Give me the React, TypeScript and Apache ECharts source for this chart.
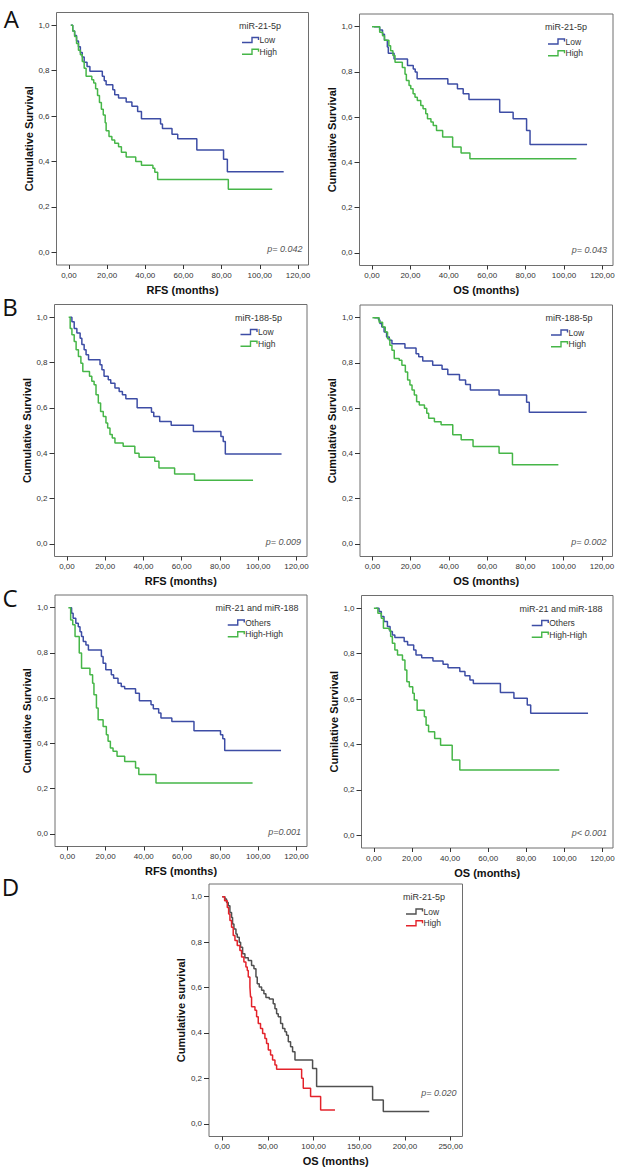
import React, { useEffect, useRef } from "react";
import * as echarts from "echarts";

// ---------- DATA (time in months, cumulative survival) ----------
const xTicks120 = [0, 20, 40, 60, 80, 100, 120];
const xTicks250 = [0, 50, 100, 150, 200, 250];
const yTicks = [0, 0.2, 0.4, 0.6, 0.8, 1.0];

// A: miR-21-5p, RFS
const aRfsLow = [[1,1.0],[2,0.975],[3,0.955],[4,0.93],[5,0.905],[6,0.88],[7,0.86],[8,0.837],[9.5,0.818],[11,0.797],[17.5,0.775],[18.5,0.755],[19.5,0.738],[23,0.716],[24,0.694],[26,0.68],[30,0.662],[33,0.643],[36,0.62],[38,0.588],[48,0.565],[49,0.545],[54,0.52],[57,0.5],[67,0.45],[81,0.41],[83,0.355],[112.5,0.355]];
const aRfsHigh = [[1,1.0],[2,0.975],[3,0.95],[4,0.92],[5,0.89],[6,0.87],[7,0.84],[8,0.81],[9,0.775],[12,0.76],[13,0.745],[14,0.72],[15,0.69],[16,0.66],[17,0.63],[18,0.605],[19,0.57],[19.5,0.535],[21,0.51],[22.5,0.495],[24,0.48],[26,0.465],[27.5,0.44],[30,0.42],[35,0.40],[38,0.383],[44,0.37],[45,0.352],[46.5,0.32],[83.5,0.278],[106.5,0.278]];
// A: miR-21-5p, OS
const aOsLow = [[1,1.0],[4,0.985],[5.5,0.967],[6.5,0.94],[8,0.91],[8.5,0.882],[11.5,0.857],[18.5,0.828],[21.5,0.813],[22.5,0.8],[23.5,0.77],[39.5,0.747],[44.5,0.725],[47.5,0.703],[50.5,0.678],[66.5,0.622],[73.5,0.593],[80.5,0.541],[82.3,0.479],[112,0.479]];
const aOsHigh = [[0,1.0],[4,0.975],[5.5,0.96],[6.5,0.94],[8.8,0.916],[9.7,0.894],[10.9,0.872],[12,0.843],[15.8,0.82],[17.2,0.79],[17.9,0.762],[19.3,0.74],[20.2,0.725],[21.4,0.703],[22.4,0.688],[23.6,0.673],[25.4,0.651],[26.6,0.637],[28,0.615],[28.9,0.593],[30.7,0.578],[31.9,0.563],[33.6,0.541],[36.8,0.512],[42,0.468],[46.4,0.441],[51,0.416],[106.5,0.416]];
// B: miR-188-5p, RFS
const bRfsLow = [[1.7,1.0],[2.6,0.98],[3.8,0.95],[5.2,0.93],[6.9,0.907],[7.8,0.88],[9,0.856],[10,0.834],[11.3,0.812],[17.3,0.79],[18.3,0.768],[19.4,0.739],[21.6,0.724],[22.9,0.709],[25.1,0.687],[27.3,0.672],[29,0.658],[30.8,0.64],[36.7,0.6],[44.2,0.581],[45.4,0.562],[48.5,0.54],[54.5,0.523],[66.1,0.496],[80.5,0.474],[81.7,0.452],[82.8,0.396],[112.2,0.396]];
const bRfsHigh = [[0.9,1.0],[1.7,0.95],[2.6,0.922],[3.8,0.893],[4.8,0.856],[6,0.827],[7.3,0.797],[8.3,0.76],[11.8,0.739],[13,0.717],[14.2,0.702],[15.2,0.658],[16.4,0.621],[17.6,0.584],[19,0.562],[20.4,0.533],[21.3,0.511],[22.5,0.482],[23.7,0.467],[25.1,0.445],[29.4,0.43],[35.5,0.4],[37.7,0.382],[45.9,0.364],[48.1,0.335],[56.3,0.308],[66.7,0.28],[97.3,0.28]];
// B: miR-188-5p, OS
const bOsLow = [[1,1.0],[3.2,0.99],[3.9,0.974],[4.9,0.959],[6.1,0.937],[7.4,0.915],[8.8,0.9],[10.2,0.885],[17,0.866],[22.8,0.841],[24.2,0.827],[26.3,0.808],[31.5,0.79],[36.4,0.772],[39.4,0.749],[45.5,0.724],[48.7,0.705],[51.2,0.68],[66.2,0.658],[80.6,0.626],[82,0.582],[112,0.582]];
const bOsHigh = [[0,1.0],[3.5,0.98],[5.3,0.959],[6.7,0.937],[7.9,0.907],[9.1,0.878],[10.2,0.856],[11.4,0.819],[14,0.812],[15.4,0.79],[17.2,0.76],[18.4,0.724],[19.6,0.702],[20.7,0.68],[21.9,0.658],[23.1,0.628],[24.5,0.614],[27.2,0.6],[28.4,0.577],[29.4,0.555],[32.4,0.54],[35.9,0.526],[42,0.482],[46.4,0.46],[52.6,0.43],[66.2,0.4],[73.2,0.35],[97.2,0.35]];
// C: miR-21 and miR-188, RFS
const cRfsOthers = [[1.4,1.0],[2.2,0.975],[3,0.953],[4.4,0.931],[5.7,0.916],[6.6,0.894],[7.4,0.872],[8.3,0.85],[9.7,0.835],[11,0.813],[17.8,0.784],[18.7,0.754],[20.1,0.725],[23,0.703],[24.2,0.688],[26.5,0.666],[28.2,0.651],[30,0.641],[35.7,0.622],[37.7,0.588],[43.8,0.571],[45,0.553],[47.8,0.534],[49,0.512],[54.7,0.497],[66.3,0.456],[80.2,0.438],[81.4,0.42],[82.4,0.368],[111.9,0.368]];
const cRfsHighHigh = [[0.5,1.0],[1.7,0.946],[2.8,0.924],[4,0.872],[6.2,0.8],[7.4,0.732],[11.8,0.703],[13.2,0.666],[13.9,0.615],[15.2,0.556],[16.1,0.504],[18.7,0.475],[20.4,0.438],[21.3,0.409],[22.5,0.379],[23.9,0.365],[26,0.343],[30,0.32],[35.7,0.291],[37.4,0.262],[46.4,0.225],[97,0.225]];
// C: miR-21 and miR-188, OS
const cOsOthers = [[1,1.0],[2.7,0.985],[3.9,0.963],[5.3,0.941],[7.1,0.919],[8.5,0.897],[9.7,0.882],[11,0.871],[15.9,0.853],[17.7,0.838],[20.9,0.816],[22.1,0.794],[25.1,0.782],[31,0.768],[36.3,0.753],[38.9,0.738],[45.1,0.721],[47.8,0.703],[50.4,0.684],[52.2,0.669],[66.4,0.629],[73.5,0.603],[80.5,0.574],[82.3,0.537],[112.4,0.537]];
const cOsHighHigh = [[0,1.0],[2.1,0.978],[3.9,0.956],[5,0.912],[8,0.904],[8.8,0.875],[9.7,0.846],[11,0.816],[12.4,0.794],[15,0.772],[16.3,0.728],[17.3,0.676],[18.6,0.654],[20.4,0.625],[21.2,0.596],[22.7,0.551],[26.5,0.522],[27.4,0.485],[28.7,0.456],[31.9,0.426],[35,0.397],[41.1,0.331],[45.1,0.287],[97.3,0.287]];
// D: miR-21-5p, OS (validation)
const dOsLow = [[0,1.0],[2.9,0.99],[4.7,0.975],[6.6,0.96],[8.4,0.931],[10.2,0.909],[11.3,0.88],[12.8,0.858],[15,0.836],[16.4,0.822],[18.6,0.8],[20.1,0.778],[22.3,0.749],[24.8,0.731],[28.5,0.719],[32.1,0.697],[34.7,0.683],[36.9,0.646],[38.3,0.617],[40.5,0.602],[43.1,0.588],[45.6,0.573],[47.8,0.556],[51.5,0.55],[55.8,0.529],[57.7,0.507],[59.5,0.485],[61.3,0.471],[63.9,0.442],[66.1,0.42],[68.6,0.405],[70.4,0.39],[72.3,0.361],[74.8,0.339],[77,0.317],[79.6,0.281],[98.9,0.244],[103.3,0.164],[164.6,0.105],[176.3,0.054],[226.6,0.054]];
const dOsHigh = [[0,1.0],[2.6,0.982],[5.5,0.953],[7,0.924],[8.4,0.895],[10.2,0.865],[12,0.829],[13.9,0.807],[16.4,0.785],[19.3,0.763],[21.2,0.734],[23.7,0.712],[25.9,0.69],[27.4,0.675],[28.5,0.646],[30.3,0.602],[31,0.558],[32.1,0.515],[35.8,0.5],[37.6,0.471],[39.4,0.442],[41.9,0.42],[44.2,0.398],[46.7,0.376],[48.5,0.354],[50.4,0.325],[52.9,0.303],[55.1,0.281],[57.7,0.259],[59.5,0.24],[86.9,0.2],[88.7,0.156],[96.7,0.12],[107.7,0.061],[123.4,0.061]];

const pValues = ["p= 0.042", "p= 0.043", "p= 0.009", "p= 0.002", "p=0.001", "p< 0.001", "p= 0.020"];

// ---------- STYLE / LAYOUT ----------
const BLUE = "#3D4DA5";
const GREEN = "#46B648";
const GRAY = "#505050";
const RED = "#E3232B";
const FONT = "Liberation Sans";

type Panel = {
  frame: number[]; // left, top, right, bottom (px)
  xName: string; yName: string; legendTitle: string; names: string[];
  colors: string[]; data: number[][][]; p: string; long?: boolean; lcx: number; pOff: number;
};

const panels: Panel[] = [
  { frame: [56.5, 12.5, 308.5, 265], xName: "RFS (months)", yName: "Cumulative Survival", legendTitle: "miR-21-5p", names: ["Low", "High"], colors: [BLUE, GREEN], data: [aRfsLow, aRfsHigh], p: pValues[0], lcx: 260, pOff: 16 },
  { frame: [359.5, 14, 613, 265.5], xName: "OS (months)", yName: "Cumulative Survival", legendTitle: "miR-21-5p", names: ["Low", "High"], colors: [BLUE, GREEN], data: [aOsLow, aOsHigh], p: pValues[1], lcx: 566, pOff: 16 },
  { frame: [54.5, 304.5, 307, 556.5], xName: "RFS (months)", yName: "Cumulative Survival", legendTitle: "miR-188-5p", names: ["Low", "High"], colors: [BLUE, GREEN], data: [bRfsLow, bRfsHigh], p: pValues[2], lcx: 258.5, pOff: 15 },
  { frame: [360, 305, 612.5, 556.5], xName: "OS (months)", yName: "Cumulative Survival", legendTitle: "miR-188-5p", names: ["Low", "High"], colors: [BLUE, GREEN], data: [bOsLow, bOsHigh], p: pValues[3], lcx: 569, pOff: 15 },
  { frame: [55, 595, 307, 846.5], xName: "RFS (months)", yName: "Cumulative Survival", legendTitle: "miR-21 and miR-188", names: ["Others", "High-High"], colors: [BLUE, GREEN], data: [cRfsOthers, cRfsHighHigh], p: pValues[4], lcx: 257, pOff: 15 },
  { frame: [361.5, 595.5, 613, 848], xName: "OS (months)", yName: "Cumilative Survival", legendTitle: "miR-21 and miR-188", names: ["Others", "High-High"], colors: [BLUE, GREEN], data: [cOsOthers, cOsHighHigh], p: pValues[5], lcx: 561, pOff: 15 },
  { frame: [209, 884, 462.5, 1136.5], xName: "OS (months)", yName: "Cumulative survival", legendTitle: "miR-21-5p", names: ["Low", "High"], colors: [GRAY, RED], data: [dOsLow, dOsHigh], p: pValues[6], long: true, lcx: 424, pOff: 44 },
];

const letters = [
  { t: "A", x: 11.3, y: 18.3 },
  { t: "B", x: 10, y: 306 },
  { t: "C", x: 10, y: 597 },
  { t: "D", x: 10.5, y: 886 },
];

function buildOption() {
  const grid: any[] = [];
  const xAxis: any[] = [];
  const yAxis: any[] = [];
  const series: any[] = [];
  const graphic: any[] = [];

  panels.forEach((p, i) => {
    const [L, T, R, B] = p.frame;
    grid.push({
      left: L, top: T, width: R - L, height: B - T,
      show: true, borderColor: "#6e6e6e", borderWidth: 1, backgroundColor: "transparent",
      containLabel: false,
    });
    const ticks = p.long ? xTicks250 : xTicks120;
    xAxis.push({
      gridIndex: i, type: "value", position: "bottom",
      min: p.long ? -14.5 : -6.5, max: p.long ? 263 : 125.5,
      axisLine: { show: false, onZero: false },
      splitLine: { show: false },
      axisTick: { show: true, length: 4, customValues: ticks, lineStyle: { color: "#333", width: 1 } },
      axisLabel: {
        customValues: ticks, fontSize: 8, color: "#333", fontFamily: FONT, margin: 6,
        formatter: (v: number) => v.toFixed(2).replace(".", ","),
      },
      name: p.xName, nameLocation: "middle", nameGap: 19,
      nameTextStyle: { fontSize: 11, fontWeight: "bold", color: "#111", fontFamily: FONT },
    });
    yAxis.push({
      gridIndex: i, type: "value", position: "left", min: -0.056, max: 1.056,
      axisLine: { show: false, onZero: false },
      splitLine: { show: false },
      axisTick: { show: true, length: 5, customValues: yTicks, lineStyle: { color: "#333", width: 1 } },
      axisLabel: {
        customValues: yTicks, fontSize: 8, color: "#333", fontFamily: FONT, margin: 7,
        formatter: (v: number) => v.toFixed(1).replace(".", ","),
      },
      name: p.yName, nameLocation: "middle", nameGap: 19, nameRotate: 90,
      nameTextStyle: { fontSize: 11, fontWeight: "bold", color: "#111", fontFamily: FONT },
    });
    p.data.forEach((d, j) => {
      series.push({
        type: "line", name: p.names[j], xAxisIndex: i, yAxisIndex: i,
        data: d, step: "end", showSymbol: false, symbol: "none", silent: true,
        lineStyle: { color: p.colors[j], width: 1.5 }, itemStyle: { color: p.colors[j] },
      });
    });

    // legend block
    graphic.push({
      type: "text", x: p.lcx, y: T + 13, silent: true,
      style: { text: p.legendTitle, font: `9px "${FONT}"`, fill: "#333", textAlign: "center", textVerticalAlign: "middle" },
    });
    const maxW = Math.max(...p.names.map((n) => n.length * 4.5));
    const sx = p.lcx - (18 + maxW) / 2;
    p.names.forEach((n, j) => {
      const y = T + 27.5 + j * 11.7;
      graphic.push({
        type: "polyline", silent: true,
        shape: { points: [[sx, y + 2.5], [sx + 10, y + 2.5], [sx + 10, y - 2.5], [sx + 16.5, y - 2.5], [sx + 16.5, y]] },
        style: { stroke: p.colors[j], lineWidth: 1.4, fill: "none" },
      });
      graphic.push({
        type: "text", x: sx + 17.5, y, silent: true,
        style: { text: n, font: `8.5px "${FONT}"`, fill: "#333", textAlign: "left", textVerticalAlign: "middle" },
      });
    });
    graphic.push({
      type: "text", x: R - 6, y: B - p.pOff, silent: true,
      style: { text: p.p, font: `italic 9px "${FONT}"`, fill: "#555", textAlign: "right", textVerticalAlign: "middle" },
    });
  });

  letters.forEach((l) => {
    graphic.push({
      type: "text", x: l.x, y: l.y, silent: true,
      style: { text: l.t, font: `24px "Open Sans"`, fill: "#111", textAlign: "center", textVerticalAlign: "middle" },
    });
  });

  return {
    animation: false,
    backgroundColor: "#ffffff",
    grid, xAxis, yAxis, series, graphic,
  };
}

export default function App() {
  const ref = useRef<HTMLDivElement>(null);
  useEffect(() => {
    if (!ref.current) return;
    const chart = echarts.init(ref.current, undefined, { renderer: "svg" });
    chart.setOption(buildOption());
    return () => chart.dispose();
  }, []);
  return (
    <div
      ref={ref}
      style={{ position: "absolute", left: 0, top: 0, width: 624, height: 1174, background: "#fff" }}
    />
  );
}
